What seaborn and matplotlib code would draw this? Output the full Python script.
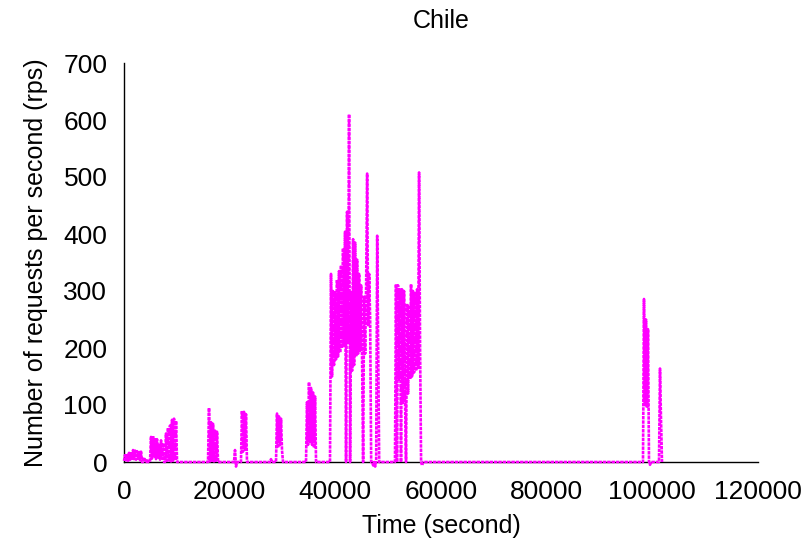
import numpy as np
import pandas as pd
import matplotlib
matplotlib.use("Agg")
import matplotlib.pyplot as plt
import seaborn as sns

# ---- data ----
step_s = 190  # sampling interval of the series, seconds

burst_starts = [0, 4920, 7760, 15900, 20820, 22140, 27630, 28770, 34450,
                38990, 51290, 98230, 101260]

b1 = [2, 12, 3, 14, 2, 16, 4, 18, 3, 21, 5, 20, 4, 19, 6, 20, 3, 18, 0,
      0, 8, 0, 0, 5, 0, 0]
b2 = [0, 44, 6, 46, 10, 42, 5, 40, 8, 30, 4, 38, 6, 33, 0]
b3 = [0, 50, 2, 60, 3, 64, 1, 74, 2, 76, 3, 72, 0]
b4 = [0, 95, 1, 70, 2, 67, 1, 55, 2, 53, 0]
blip1 = [0, 21, -8, 0]
b5 = [0, 90, 18, 88, 22, 84, 0]
blip2 = [0, 5, 0]
b6 = [0, 85, 25, 80, 30, 76, 20, 0]
b7 = [0, 105, 30, 140, 35, 130, 30, 122, 25, 115, 0]
m1 = [0, 330, 150, 300, 170, 298, 180, 320, 185, 335, 192, 345, 200, 375,
      205, 404, 0, 439, 210, 610, 0, 300, 160, 391, 170, 385, 185, 355, 190,
      330, 195, 310, 175, 0, 290, 190, 310, 506, 240, 330, 250, 0, 0, -6, 0,
      -8, 0, 397, 200, 0]
m2 = [0, 312, 0, 310, 145, 305, 0, 303, 104, 300, 110, 0, 278, 120, 275,
      145, 312, 150, 300, 157, 298, 160, 303, 165, 508, 200, 0, -6, 0]
l1 = [0, 286, 100, 250, 95, 233, 0, -5, 0]
l2 = [0, 164, 75, 0]

bursts = [b1, b2, b3, b4, blip1, b5, blip2, b6, b7, m1, m2, l1, l2]

x_ticks = [0, 20000, 40000, 60000, 80000, 100000, 120000]
y_ticks = [0, 100, 200, 300, 400, 500, 600, 700]
title = "Chile"
x_label = "Time (second)"
y_label = "Number of requests per second (rps)"

# ---- build table ----
times, rps = [], []
for start, vals in zip(burst_starts, bursts):
    times.extend(start + step_s * np.arange(len(vals)))
    rps.extend(vals)
df = pd.DataFrame({"time": times, "rps": rps})

# ---- plot ----
sns.set_style("white")
plt.rcParams["font.family"] = ["Liberation Sans", "DejaVu Sans"]
plt.rcParams["text.color"] = "black"
plt.rcParams["axes.labelcolor"] = "black"

fig = plt.figure(figsize=(8.07, 5.46), dpi=100)
ax = fig.add_axes([124 / 807, 1 - 462 / 546, (758 - 124) / 807, (462 - 63) / 546])

sns.lineplot(data=df, x="time", y="rps", ax=ax, estimator=None, sort=False,
             color="#ff00ff", linewidth=1.9, linestyle=(0, (1.3, 0.35)),
             clip_on=False, zorder=3)

ax.set_xlim(0, 120000)
ax.set_ylim(0, 700)
ax.set_xticks(x_ticks)
ax.set_yticks(y_ticks)
ax.set_xticklabels([str(v) for v in x_ticks])
ax.set_yticklabels([str(v) for v in y_ticks])

for s in ["top", "right"]:
    ax.spines[s].set_visible(False)
for s in ["left", "bottom"]:
    ax.spines[s].set_color("black")
    ax.spines[s].set_linewidth(1.0)
    ax.spines[s].set_zorder(2)

ax.tick_params(axis="both", direction="in", length=6.5, width=1.0,
               colors="black", labelcolor="black", labelsize=19)
ax.tick_params(axis="x", pad=13)
ax.tick_params(axis="y", pad=12)

ax.set_xlabel(x_label, fontsize=18, labelpad=7, color="black")
ax.set_ylabel(y_label, fontsize=18, labelpad=11, color="black")
ax.set_title(title, fontsize=18, pad=25, color="black")

fig.savefig("out.png", dpi=100)
